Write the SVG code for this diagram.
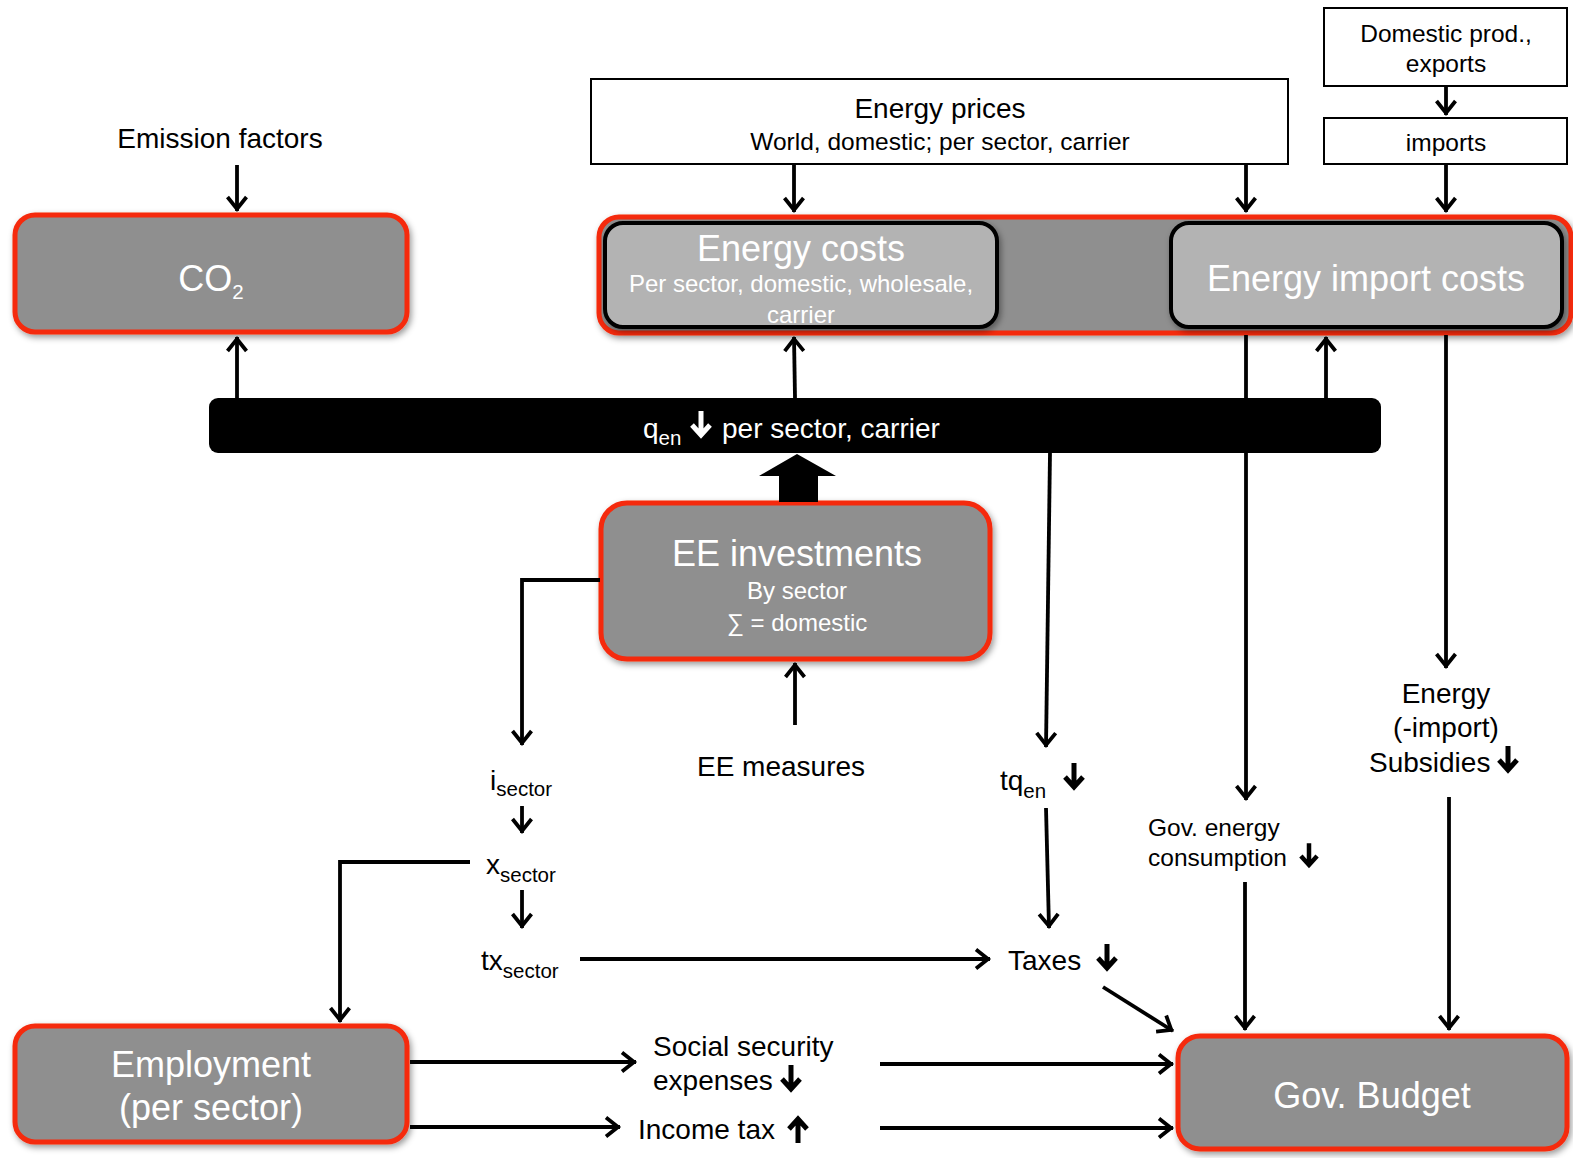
<svg xmlns="http://www.w3.org/2000/svg" xmlns:xlink="http://www.w3.org/1999/xlink" width="1573" height="1158" viewBox="0 0 1573 1158">
<style>
text{font-family:"Liberation Sans",Arial,sans-serif}
.big{font-size:36px;fill:#fff}
.mid{font-size:28px;fill:#000}
.sm{font-size:24.5px;fill:#000}
.sub{font-size:20.5px}
.wsm{font-size:24px;fill:#fff}
.node{fill:#8f8f8f;stroke:#f52a0c;stroke-width:5}
.inner{fill:#b3b3b3;stroke:#000;stroke-width:4}
.plain{fill:#fff;stroke:#000;stroke-width:2}
.conn{fill:none;stroke:#000;stroke-width:3.8}
</style>
<defs>
<filter id="sh" x="-10%" y="-10%" width="125%" height="130%">
<feDropShadow dx="2" dy="3" stdDeviation="3" flood-color="#000" flood-opacity="0.4"/>
</filter>
<marker id="ah" markerUnits="userSpaceOnUse" markerWidth="30" markerHeight="30" viewBox="-20 -15 30 30" refX="2" refY="0" orient="auto">
<path d="M-12,-9.5 L0,0 L-12,9.5" fill="none" stroke="#000" stroke-width="3.8"/>
</marker>
<path id="dn" d="M0,-13 L0,10 M-9,1 L0,11 L9,1" fill="none" stroke-width="5"/>
</defs>

<g id="emission-factors"><text class="mid" x="220" y="148" text-anchor="middle">Emission factors</text></g>

<g id="co2">
<rect class="node" filter="url(#sh)" x="15" y="215" width="392" height="117" rx="20"/>
<text class="big" x="211" y="291" text-anchor="middle">CO<tspan class="sub" font-size="24" dy="8">2</tspan></text>
</g>

<g id="energy-prices">
<rect class="plain" x="591" y="79" width="697" height="85"/>
<text class="mid" x="940" y="118" text-anchor="middle">Energy prices</text>
<text class="sm" x="940" y="150" text-anchor="middle">World, domestic; per sector, carrier</text>
</g>

<g id="domestic-prod">
<rect class="plain" x="1324" y="8" width="243" height="78"/>
<text class="sm" x="1446" y="42" text-anchor="middle">Domestic prod.,</text>
<text class="sm" x="1446" y="72" text-anchor="middle">exports</text>
</g>

<g id="imports">
<rect class="plain" x="1324" y="118" width="243" height="46"/>
<text class="sm" x="1446" y="151" text-anchor="middle">imports</text>
</g>

<g id="energy-cost-group">
<rect class="node" filter="url(#sh)" x="599" y="217" width="972" height="116" rx="20"/>
<g id="energy-costs">
<rect class="inner" filter="url(#sh)" x="605" y="223" width="392" height="104" rx="18"/>
<text class="big" x="801" y="261" text-anchor="middle">Energy costs</text>
<text class="wsm" x="801" y="292" text-anchor="middle">Per sector, domestic, wholesale,</text>
<text class="wsm" x="801" y="323" text-anchor="middle">carrier</text>
</g>
<g id="energy-import-costs">
<rect class="inner" filter="url(#sh)" x="1171" y="223" width="391" height="104" rx="18"/>
<text class="big" x="1366" y="291" text-anchor="middle">Energy import costs</text>
</g>
</g>

<g id="qen">
<rect x="209" y="398" width="1172" height="55" rx="9" fill="#000"/>
<text x="643" y="438" font-size="28" fill="#fff">q<tspan class="sub" dy="7">en</tspan></text>
<use xlink:href="#dn" x="701" y="424" stroke="#fff"/>
<text x="722" y="438" font-size="28" fill="#fff">per sector, carrier</text>
</g>

<g id="ee-investments">
<rect class="node" filter="url(#sh)" x="601" y="503" width="389" height="156" rx="26"/>
<text class="big" x="797" y="566" text-anchor="middle">EE investments</text>
<text class="wsm" x="797" y="599" text-anchor="middle">By sector</text>
<text class="wsm" x="797" y="631" text-anchor="middle">∑ = domestic</text>
</g>

<g id="ee-measures"><text class="mid" x="781" y="776" text-anchor="middle">EE measures</text></g>

<g id="i-sector"><text class="mid" x="490" y="790">i<tspan class="sub" dy="6">sector</tspan></text></g>
<g id="x-sector"><text class="mid" x="486" y="874">x<tspan class="sub" dy="8">sector</tspan></text></g>
<g id="tx-sector"><text class="mid" x="481" y="970">tx<tspan class="sub" dy="8">sector</tspan></text></g>

<g id="tq-en">
<text class="mid" x="1000" y="790">tq<tspan class="sub" dy="8">en</tspan></text>
<use xlink:href="#dn" x="1074" y="776" stroke="#000"/>
</g>

<g id="taxes">
<text class="mid" x="1008" y="970">Taxes</text>
<use xlink:href="#dn" x="1107" y="957" stroke="#000"/>
</g>

<g id="subsidies">
<text class="mid" x="1446" y="703" text-anchor="middle">Energy</text>
<text class="mid" x="1446" y="737" text-anchor="middle">(-import)</text>
<text class="mid" x="1369" y="772">Subsidies</text>
<use xlink:href="#dn" x="1508" y="759" stroke="#000"/>
</g>

<g id="gov-energy">
<text class="sm" x="1148" y="836">Gov. energy</text>
<text class="sm" x="1148" y="866">consumption</text>
<use xlink:href="#dn" transform="translate(1309,855) scale(0.9)" stroke="#000"/>
</g>

<g id="social-security">
<text class="mid" x="653" y="1056">Social security</text>
<text class="mid" x="653" y="1090">expenses</text>
<use xlink:href="#dn" x="791" y="1078" stroke="#000"/>
</g>

<g id="income-tax">
<text class="mid" x="638" y="1139">Income tax</text>
<use xlink:href="#dn" transform="translate(798,1130) rotate(180)" stroke="#000"/>
</g>

<g id="employment">
<rect class="node" filter="url(#sh)" x="15" y="1026" width="392" height="116" rx="20"/>
<text class="big" x="211" y="1077" text-anchor="middle">Employment</text>
<text class="big" x="211" y="1120" text-anchor="middle">(per sector)</text>
</g>

<g id="gov-budget">
<rect class="node" filter="url(#sh)" x="1178" y="1036" width="389" height="113" rx="22"/>
<text class="big" x="1372" y="1108" text-anchor="middle">Gov. Budget</text>
</g>

<g id="connectors">
<path class="conn" marker-end="url(#ah)" d="M237,165 L237,211"/>
<path class="conn" marker-end="url(#ah)" d="M237,398 L237,337"/>
<path class="conn" marker-end="url(#ah)" d="M794,164 L794,212"/>
<path class="conn" marker-end="url(#ah)" d="M1246,164 L1246,212"/>
<path class="conn" marker-end="url(#ah)" d="M1446,86 L1446,115"/>
<path class="conn" marker-end="url(#ah)" d="M1446,164 L1446,212"/>
<path class="conn" marker-end="url(#ah)" d="M795,398 L794,337"/>
<path class="conn" marker-end="url(#ah)" d="M1326,398 L1326,337"/>
<path class="conn" marker-end="url(#ah)" d="M1246,335 L1246,800"/>
<path class="conn" marker-end="url(#ah)" d="M1446,335 L1446,668"/>
<path class="conn" marker-end="url(#ah)" d="M1050,453 L1046,747"/>
<path class="conn" marker-end="url(#ah)" d="M1046,808 L1049,928"/>
<path class="conn" marker-end="url(#ah)" d="M1449,797 L1449,1030"/>
<path class="conn" marker-end="url(#ah)" d="M1245,882 L1245,1030"/>
<path class="conn" marker-end="url(#ah)" d="M1103,987 L1173,1031"/>
<path class="conn" marker-end="url(#ah)" d="M795,725 L795,663"/>
<path class="conn" marker-end="url(#ah)" d="M600,580 L522,580 L522,745"/>
<path class="conn" marker-end="url(#ah)" d="M522,806 L522,833"/>
<path class="conn" marker-end="url(#ah)" d="M522,890 L522,928"/>
<path class="conn" marker-end="url(#ah)" d="M470,862 L340,862 L340,1022"/>
<path class="conn" marker-end="url(#ah)" d="M580,959 L990,959"/>
<path class="conn" marker-end="url(#ah)" d="M410,1062 L636,1062"/>
<path class="conn" marker-end="url(#ah)" d="M410,1127 L620,1127"/>
<path class="conn" marker-end="url(#ah)" d="M880,1064 L1173,1064"/>
<path class="conn" marker-end="url(#ah)" d="M880,1128 L1173,1128"/>
<polygon points="779,502 779,476 759,476 797,454 836,476 818,476 818,502" fill="#000"/>
</g>
</svg>
